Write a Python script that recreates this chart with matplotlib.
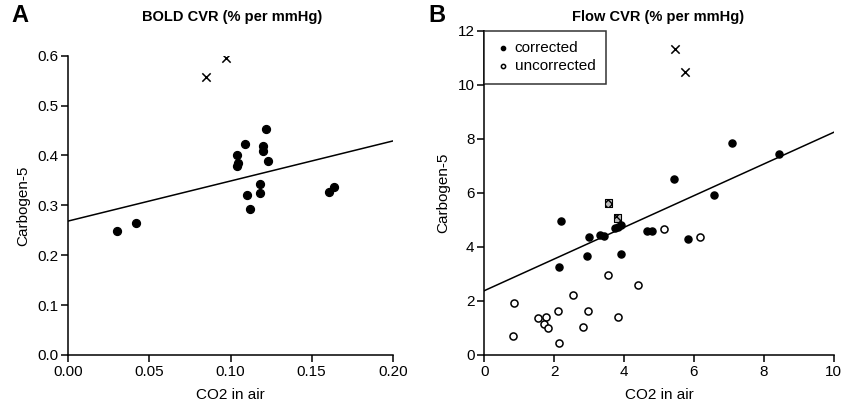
import matplotlib
matplotlib.use("Agg")
import matplotlib.pyplot as plt
import numpy as np

plt.rcParams['font.family'] = ['Liberation Sans', 'DejaVu Sans']

# panel A: BOLD CVR
bold_x = [0.030, 0.042, 0.104, 0.1045, 0.104, 0.109, 0.110, 0.112, 0.118, 0.118,
          0.1198, 0.1198, 0.122, 0.123, 0.161, 0.1638]
bold_y = [0.249, 0.264, 0.401, 0.384, 0.379, 0.422, 0.321, 0.293, 0.342, 0.325,
          0.418, 0.408, 0.454, 0.389, 0.327, 0.336]
bold_out_x = [0.0851, 0.097]
bold_out_y = [0.557, 0.595]
bold_fit = [0.2686, 0.429]  # values at x=0 and x=0.20

# panel B: Flow CVR
corr_x = [2.19, 2.13, 2.94, 3.01, 3.31, 3.42, 3.75, 3.84, 3.91, 3.91, 4.66, 4.79,
          5.44, 5.82, 6.56, 7.09, 8.43]
corr_y = [4.97, 3.27, 3.66, 4.38, 4.43, 4.40, 4.71, 4.72, 4.81, 3.75, 4.59, 4.59,
          6.52, 4.30, 5.91, 7.84, 7.44]
uncorr_x = [0.84, 0.81, 1.53, 1.78, 1.70, 1.83, 2.10, 2.13, 2.55, 2.83, 2.96, 3.53,
            3.82, 4.41, 5.13, 6.18]
uncorr_y = [1.94, 0.72, 1.38, 1.42, 1.13, 1.01, 1.63, 0.46, 2.23, 1.04, 1.64, 2.96,
            1.42, 2.59, 4.67, 4.37]
hatch_x = [3.56, 3.82]
hatch_y = [5.62, 5.07]
flow_out_x = [5.46, 5.74]
flow_out_y = [11.31, 10.46]
flow_fit = [2.38, 8.24]  # values at x=0 and x=10

W, H = 842, 407
fig = plt.figure(figsize=(W / 100, H / 100), dpi=100)


def box(l, t, r, b):
    return [l / W, 1 - b / H, (r - l) / W, (b - t) / H]


def style(ax):
    for s in ['top', 'right']:
        ax.spines[s].set_visible(False)
    for s in ['left', 'bottom']:
        ax.spines[s].set_linewidth(1.1)
    ax.tick_params(direction='out', length=5, width=1.1, labelsize=11, pad=2)
    ax.set_xlabel('CO2 in air', fontsize=11, labelpad=7)
    ax.set_ylabel('Carbogen-5', fontsize=11, labelpad=5)


axA = fig.add_axes(box(68.3, 55.7, 392.7, 355))
axA.scatter(bold_x, bold_y, s=32, color='black', zorder=3)
axA.scatter(bold_out_x, bold_out_y, s=36, marker='x', color='black', linewidths=1.1)
axA.plot([0, 0.2], bold_fit, color='black', lw=1.1)
axA.set_xlim(0, 0.2)
axA.set_ylim(0, 0.6)
axA.set_xticks(np.arange(0, 0.21, 0.05))
axA.set_xticklabels(['0.00', '0.05', '0.10', '0.15', '0.20'])
axA.set_yticks(np.arange(0, 0.61, 0.1))
axA.set_yticklabels(['0.0', '0.1', '0.2', '0.3', '0.4', '0.5', '0.6'])
style(axA)
fig.text(232 / W, 1 - 17 / H, 'BOLD CVR (% per mmHg)', ha='center', va='center',
         fontsize=10.5, fontweight='bold')
fig.text(11 / W, 1 - 16 / H, 'A', ha='left', va='center', fontsize=17, fontweight='bold')

axB = fig.add_axes(box(484.3, 30.7, 833.7, 355))
axB.scatter(corr_x, corr_y, s=26, color='black', zorder=3, label='corrected')
axB.scatter(uncorr_x, uncorr_y, s=26, facecolor='white', edgecolor='black',
            linewidths=1.1, zorder=3, label='uncorrected')
axB.scatter(hatch_x, hatch_y, s=28, marker='s', facecolor='#bbbbbb', edgecolor='black',
            hatch='xxxx', linewidths=0.8, zorder=3)
axB.scatter(flow_out_x, flow_out_y, s=36, marker='x', color='black', linewidths=1.1)
axB.plot([0, 10], flow_fit, color='black', lw=1.1)
axB.set_xlim(0, 10)
axB.set_ylim(0, 12)
axB.set_xticks(range(0, 11, 2))
axB.set_yticks(range(0, 13, 2))
style(axB)
leg = axB.legend(loc='upper left', bbox_to_anchor=(0, 1), fontsize=11, frameon=True,
                 fancybox=False, edgecolor='black', markerscale=0.6, handletextpad=0.2,
                 borderaxespad=0, borderpad=0.7, handlelength=1.1, labelspacing=0.25)
leg.get_frame().set_linewidth(1.1)
fig.text(658 / W, 1 - 17 / H, 'Flow CVR (% per mmHg)', ha='center', va='center',
         fontsize=10.5, fontweight='bold')
fig.text(428 / W, 1 - 16 / H, 'B', ha='left', va='center', fontsize=17, fontweight='bold')

fig.savefig('out.png', dpi=100)
